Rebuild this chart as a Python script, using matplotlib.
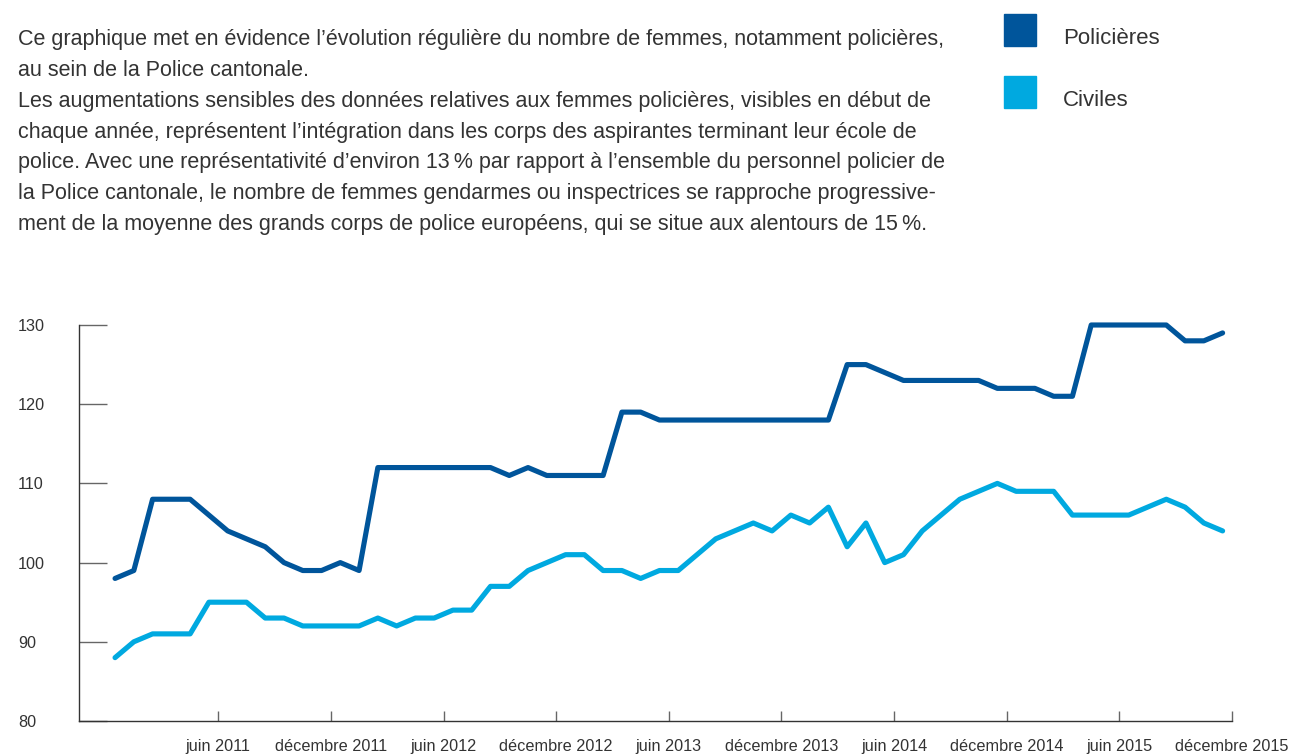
import matplotlib.pyplot as plt

# effectifs mensuels, janvier 2011 -> decembre 2015
policieres = [98, 99, 108, 108, 108, 106, 104, 103, 102, 100, 99, 99,
              100, 99, 112, 112, 112, 112, 112, 112, 112, 111, 112, 111,
              111, 111, 111, 119, 119, 118, 118, 118, 118, 118, 118, 118,
              118, 118, 118, 125, 125, 124, 123, 123, 123, 123, 123, 122,
              122, 122, 121, 121, 130, 130, 130, 130, 130, 128, 128, 129]
civiles = [88, 90, 91, 91, 91, 95, 95, 95, 93, 93, 92, 92,
           92, 92, 93, 92, 93, 93, 94, 94, 97, 97, 99, 100,
           101, 101, 99, 99, 98, 99, 99, 101, 103, 104, 105, 104,
           106, 105, 107, 102, 105, 100, 101, 104, 106, 108, 109, 110,
           109, 109, 109, 106, 106, 106, 106, 107, 108, 107, 105, 104]
annees = [2011, 2012, 2013, 2014, 2015]
y_ticks = [80, 90, 100, 110, 120, 130]

texte = [
    "Ce graphique met en évidence l’évolution régulière du nombre de femmes, notamment policières,",
    "au sein de la Police cantonale.",
    "Les augmentations sensibles des données relatives aux femmes policières, visibles en début de",
    "chaque année, représentent l’intégration dans les corps des aspirantes terminant leur école de",
    "police. Avec une représentativité d’environ 13\u2009% par rapport à l’ensemble du personnel policier de",
    "la Police cantonale, le nombre de femmes gendarmes ou inspectrices se rapproche progressive-",
    "ment de la moyenne des grands corps de police européens, qui se situe aux alentours de 15\u2009%.",
]

bleu_fonce = "#00559b"
bleu_clair = "#00a9e0"
gris = "#333333"

plt.rcParams['font.family'] = ['Liberation Sans', 'DejaVu Sans']

fig = plt.figure(figsize=(12.93, 7.55), dpi=100)
ax = fig.add_axes([79 / 1293, 34 / 755, (1232 - 79) / 1293, (721 - 325) / 755])

mois = list(range(len(policieres)))
ax.plot(mois, policieres, color=bleu_fonce, lw=3.7, solid_capstyle='round',
        solid_joinstyle='round', clip_on=False)
ax.plot(mois, civiles, color=bleu_clair, lw=3.7, solid_capstyle='round',
        solid_joinstyle='round', clip_on=False)

ax.set_xlim(-1.92, 59.5)
ax.set_ylim(80, 130)

for s in ['top', 'right']:
    ax.spines[s].set_visible(False)
for s in ['left', 'bottom']:
    ax.spines[s].set_color(gris)
    ax.spines[s].set_linewidth(1.0)

ax.set_yticks(y_ticks)
ax.set_yticklabels([str(v) for v in y_ticks])
ax.tick_params(axis='y', direction='in', length=20, width=1.0, color='#666666',
               pad=44, labelsize=11.7, labelcolor=gris)
for lab in ax.get_yticklabels():
    lab.set_horizontalalignment('left')

x_pos, x_lab = [], []
for a in annees:
    x_pos += [(a - 2011) * 12 + 5.5, (a - 2011) * 12 + 11.5]
    x_lab += [f"juin {a}", f"décembre {a}"]
ax.set_xticks(x_pos)
ax.set_xticklabels(x_lab)
ax.tick_params(axis='x', direction='in', length=7, width=1.0, color='#666666',
               pad=13, labelsize=11.7, labelcolor=gris)

# texte d'introduction
for i, ligne in enumerate(texte):
    fig.text(18 / 1293, 1 - (40 + i * 30.7) / 755, ligne, fontsize=15.5,
             color=gris, ha='left', va='center')

# legende
fig.patches.append(plt.Rectangle((1004 / 1293, 1 - 46 / 755), 32 / 1293, 32 / 755,
                                 transform=fig.transFigure, color=bleu_fonce))
fig.patches.append(plt.Rectangle((1004 / 1293, 1 - 108 / 755), 32 / 1293, 32 / 755,
                                 transform=fig.transFigure, color=bleu_clair))
fig.text(1063 / 1293, 1 - 38 / 755, "Policières", fontsize=16, color=gris, va='center')
fig.text(1063 / 1293, 1 - 100 / 755, "Civiles", fontsize=16, color=gris, va='center')

fig.savefig("out.png", dpi=100)
